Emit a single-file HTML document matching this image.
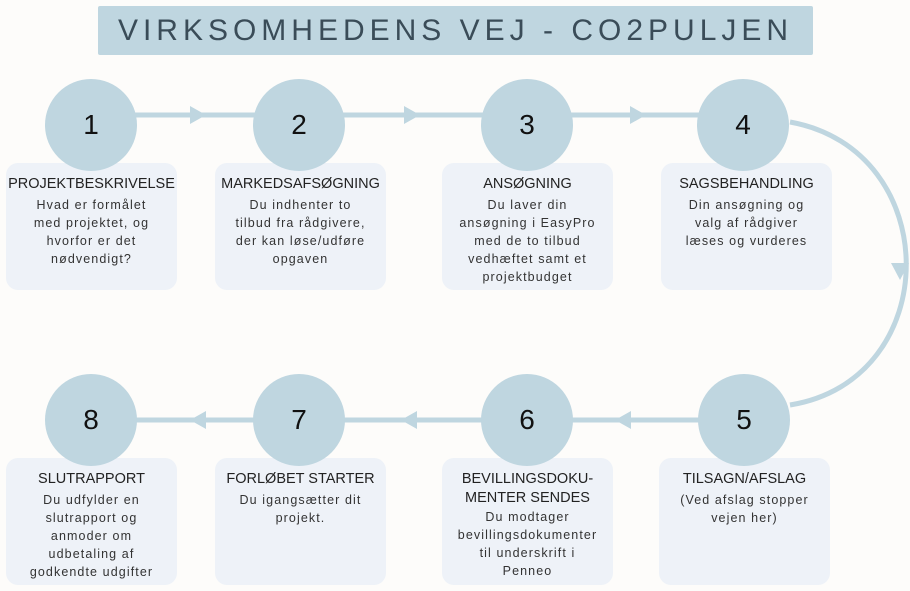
<!DOCTYPE html>
<html><head><meta charset="utf-8"><style>
body{margin:0;width:910px;height:591px;background:#fdfcfa;position:relative;overflow:hidden;font-family:"Liberation Sans",sans-serif}
.title{position:absolute;left:98px;top:6px;width:715px;height:49px;background:#bfd6e0;border-radius:2px;color:#3a4c58;font-size:30px;letter-spacing:5px;text-align:center;line-height:49px}
.card{position:absolute;width:171px;height:127px;background:#eef2f8;border-radius:12px;text-align:center;color:#222}
.card h{display:block;font-size:14.5px;margin-top:12px;line-height:19px}
.card p{margin:2px 0 0;font-size:12.5px;letter-spacing:1.1px;line-height:18px;color:#333}
.c{position:absolute;width:92px;height:92px;border-radius:50%;background:#bfd6e0;font-size:28px;text-align:center;line-height:92px;color:#111}
svg{position:absolute;left:0;top:0}
</style></head><body>
<svg width="910" height="591">
<g stroke="#bfd6e0" stroke-width="5" fill="none">
<line x1="91" y1="115" x2="743" y2="115"/>
<line x1="91" y1="420" x2="743" y2="420"/>
<path d="M 790 122 C 945 150, 945 380, 790 405"/>
</g>
<g fill="#bfd6e0">
<polygon points="190,106 206,115 190,124"/>
<polygon points="404,106 420,115 404,124"/>
<polygon points="630,106 646,115 630,124"/>
<polygon points="631,411 615,420 631,429"/>
<polygon points="417,411 401,420 417,429"/>
<polygon points="206,411 190,420 206,429"/>
<polygon points="891,263 909,263 900,280"/>
</g>
</svg>
<div class="title">VIRKSOMHEDENS VEJ - CO2PULJEN</div>
<div class="card" style="left:6px;top:163px"><h>PROJEKTBESKRIVELSE</h><p>Hvad er formålet<br>med projektet, og<br>hvorfor er det<br>nødvendigt?</p></div>
<div class="card" style="left:215px;top:163px"><h>MARKEDSAFSØGNING</h><p>Du indhenter to<br>tilbud fra rådgivere,<br>der kan løse/udføre<br>opgaven</p></div>
<div class="card" style="left:442px;top:163px"><h>ANSØGNING</h><p>Du laver din<br>ansøgning i EasyPro<br>med de to tilbud<br>vedhæftet samt et<br>projektbudget</p></div>
<div class="card" style="left:661px;top:163px"><h>SAGSBEHANDLING</h><p>Din ansøgning og<br>valg af rådgiver<br>læses og vurderes</p></div>
<div class="card" style="left:6px;top:458px"><h>SLUTRAPPORT</h><p>Du udfylder en<br>slutrapport og<br>anmoder om<br>udbetaling af<br>godkendte udgifter</p></div>
<div class="card" style="left:215px;top:458px"><h>FORLØBET STARTER</h><p>Du igangsætter dit<br>projekt.</p></div>
<div class="card" style="left:442px;top:458px"><h>BEVILLINGSDOKU-<br>MENTER SENDES</h><p style="margin-top:0">Du modtager<br>bevillingsdokumenter<br>til underskrift i<br>Penneo</p></div>
<div class="card" style="left:659px;top:458px"><h>TILSAGN/AFSLAG</h><p>(Ved afslag stopper<br>vejen her)</p></div>
<div class="c" style="left:45px;top:79px">1</div>
<div class="c" style="left:253px;top:79px">2</div>
<div class="c" style="left:481px;top:79px">3</div>
<div class="c" style="left:697px;top:79px">4</div>
<div class="c" style="left:45px;top:374px">8</div>
<div class="c" style="left:253px;top:374px">7</div>
<div class="c" style="left:481px;top:374px">6</div>
<div class="c" style="left:698px;top:374px">5</div>
</body></html>
